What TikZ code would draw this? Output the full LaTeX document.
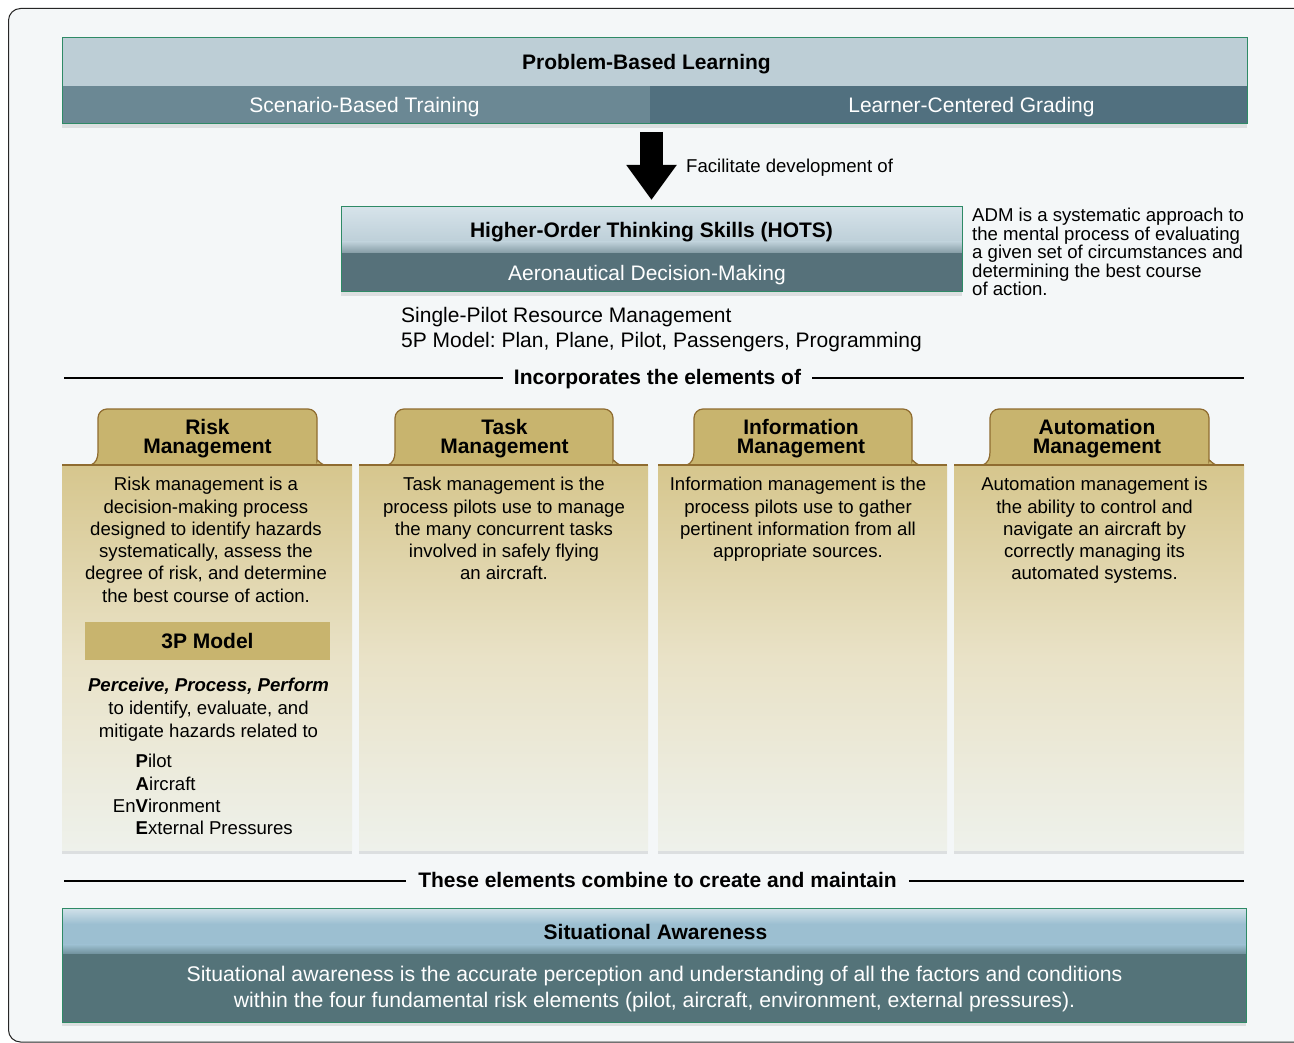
\documentclass[tikz,border=0pt]{standalone}
\usepackage{fontspec}
\setmainfont{Liberation Sans}
\usetikzlibrary{arrows.meta,shadows}
\frenchspacing

\definecolor{pagebg}{HTML}{F4F7F8}
\definecolor{edgegreen}{HTML}{2E8A66}
\definecolor{pbltop}{HTML}{BDCED6}
\definecolor{sbtblue}{HTML}{6B8894}
\definecolor{lcgblue}{HTML}{51707F}
\definecolor{hotstop}{HTML}{D6E3EA}
\definecolor{hotsmid}{HTML}{BDCFD8}
\definecolor{admteal}{HTML}{56717A}
\definecolor{satop}{HTML}{D2E2EA}
\definecolor{samid}{HTML}{9CBFD1}
\definecolor{sateal}{HTML}{547379}
\definecolor{tabgold}{HTML}{C8B46E}
\definecolor{tabbrown}{HTML}{8F6C30}
\definecolor{cardtop}{HTML}{D6C68D}
\definecolor{cardmid}{HTML}{E9E2C7}
\definecolor{cardbot}{HTML}{EEF1EB}

\begin{document}
\begin{tikzpicture}[x=1pt, y=-1pt,
  bigtext/.style={font=\fontsize{21}{25}\selectfont},
  headtext/.style={font=\fontsize{21}{25}\selectfont\bfseries},
  smalltext/.style={font=\fontsize{18.6}{22.3}\selectfont},
  boxedge/.style={draw=edgegreen, line width=1pt, inner sep=0pt, outer sep=0pt},
  softshadow/.style={drop shadow={opacity=.2, shadow xshift=0pt, shadow yshift=-4pt}},
  cardbody/.style={top color=cardtop, bottom color=cardbot, middle color=cardmid, softshadow},
  cardtab/.style={fill=tabgold, draw=tabbrown, line width=1.2pt},
  tabtitle/.style={font=\fontsize{21}{19}\selectfont\bfseries, align=center, inner sep=0pt, anchor=north},
  cardtext/.style={smalltext, align=center, inner sep=0pt, anchor=north},
  divider/.style={line width=2pt},
  bigarrow/.style={line width=23pt, -{Triangle[width=48pt,length=35pt]}, shorten <=8pt, shorten >=7pt}]

  \useasboundingbox (0,0) rectangle (1294,1043);
  \clip (0,0) rectangle (1294,1043);
  \fill[white] (0,0) rectangle (1294,1043);
  \draw[rounded corners=12pt, fill=pagebg, draw=black!85, line width=1pt] (8.5,8.5) rectangle (1320,1042);

  % problem-based learning banner
  \path[fill=pbltop, softshadow] (62,38) rectangle (1247,124);
  \fill[sbtblue] (62,86) rectangle (650,124);
  \fill[lcgblue] (650,86) rectangle (1247,124);
  \node[boxedge, minimum width=1185pt, minimum height=86pt] (pbl) at (654.5,81) {};
  \node[headtext, anchor=base] (pbltitle) at (646.5,69.5) {Problem-Based Learning};
  \node[bigtext, text=white, anchor=base] (sbt) at (364.5,112.5) {Scenario-Based Training};
  \node[bigtext, text=white, anchor=base] (lcg) at (971.5,112.5) {Learner-Centered Grading};

  % higher-order thinking skills
  \path[fill=admteal, softshadow] (341,207) rectangle (962,292);
  \shade[top color=hotstop, bottom color=hotsmid] (341,207) rectangle (962,242);
  \shade[top color=hotsmid, bottom color=admteal!55!hotsmid] (341,242) rectangle (962,253);
  \node[boxedge, minimum width=621pt, minimum height=85pt] (hots) at (651.5,249.5) {};
  \node[headtext, anchor=base] (hotstitle) at (651.5,237.5) {Higher-Order Thinking Skills (HOTS)};
  \node[bigtext, text=white, anchor=base] (adm) at (647,280.5) {Aeronautical Decision-Making};

  \draw[bigarrow] (pbl.south -| hots.north) -- (hots.north);
  \node[smalltext, anchor=base west, inner sep=0pt] (facil) at (686,172.7) {Facilitate development of};

  \node[font=\fontsize{18.6}{18.5}\selectfont, align=left, anchor=north west, inner sep=0pt] (admnote) at (972,208.1)
    {ADM is a systematic approach to\\the mental process of evaluating\\a given set of circumstances and\\determining the best course\\of action.};
  \node[font=\fontsize{21}{25}\selectfont, align=left, anchor=north west, inner sep=0pt] (srm) at (401,307.2)
    {Single-Pilot Resource Management\\5P Model: Plan, Plane, Pilot, Passengers, Programming};

  % incorporates the elements of
  \node[headtext, inner xsep=11pt, inner ysep=0pt, anchor=base] (incorp) at (657.5,384.5) {Incorporates the elements of};
  \coordinate (incL) at (64,378);
  \coordinate (incR) at (1244,378);
  \draw[divider] (incL) -- (incL -| incorp.west);
  \draw[divider] (incorp.east |- incR) -- (incR);

  % the four cards
  \foreach \xa/\xb in {62/352, 359/648, 658/947, 954/1244} {
    \path[cardbody] (\xa,465) rectangle (\xb,850);
    \draw[cardtab] ({\xa+29},465) .. controls ({\xa+34},463) and ({\xa+36},458) .. ({\xa+36},452)
      [rounded corners=9pt] -- ({\xa+36},409) -- ({\xb-35},409) -- ({\xb-35},452)
      [sharp corners] .. controls ({\xb-35},458) and ({\xb-33},463) .. ({\xb-28},465) -- cycle;
    \draw[tabbrown, line width=1.2pt] (\xa,465) -- (\xb,465);
  }

  \node[tabtitle] (riskhd) at (207.5,419.2) {Risk\\Management};
  \node[tabtitle] (taskhd) at (504.5,419.2) {Task\\Management};
  \node[tabtitle] (infohd) at (801,419.2) {Information\\Management};
  \node[tabtitle] (autohd) at (1097,419.2) {Automation\\Management};

  \node[cardtext] (risktxt) at (206,477.1) {Risk management is a\\decision-making process\\designed to identify hazards\\systematically, assess the\\degree of risk, and determine\\the best course of action.};
  \node[cardtext] (tasktxt) at (504,477.1) {Task management is the\\process pilots use to manage\\the many concurrent tasks\\involved in safely flying\\an aircraft.};
  \node[cardtext] (infotxt) at (798,477.1) {Information management is the\\process pilots use to gather\\pertinent information from all\\appropriate sources.};
  \node[cardtext] (autotxt) at (1094.5,477.1) {Automation management is\\the ability to control and\\navigate an aircraft by\\correctly managing its\\automated systems.};

  % 3P model
  \node[headtext, fill=tabgold, minimum width=245pt, minimum height=38pt, inner sep=0pt] (threep) at (207.5,641) {3P Model};
  \node[font=\fontsize{18.6}{23}\selectfont, align=center, anchor=north, inner sep=0pt] (perceive) at (208.5,678.1)
    {\textbf{\textit{Perceive, Process, Perform}}\\to identify, evaluate, and\\mitigate hazards related to};
  \node[smalltext, align=left, anchor=north west, inner sep=0pt] (pave) at (135.5,754.1)
    {\textbf{P}ilot\\\textbf{A}ircraft\\\llap{En}\textbf{V}ironment\\\textbf{E}xternal Pressures};

  % these elements combine
  \node[headtext, inner xsep=12pt, inner ysep=0pt, anchor=base] (combine) at (657.5,887.5) {These elements combine to create and maintain};
  \coordinate (comL) at (64,881);
  \coordinate (comR) at (1244,881);
  \draw[divider] (comL) -- (comL -| combine.west);
  \draw[divider] (combine.east |- comR) -- (comR);

  % situational awareness
  \path[fill=sateal, softshadow] (62,908) rectangle (1246,1022);
  \shade[top color=satop, bottom color=samid] (62,908) rectangle (1246,924);
  \fill[samid] (62,923.5) rectangle (1246,945);
  \shade[top color=samid, bottom color=sateal!55!samid] (62,944.5) rectangle (1246,953);
  \node[boxedge, minimum width=1184pt, minimum height=114pt] (sa) at (654,965) {};
  \node[headtext, anchor=base] (satitle) at (655.5,939.5) {Situational Awareness};
  \node[font=\fontsize{21.2}{26}\selectfont, text=white, align=center, anchor=north, inner sep=0pt] (satxt) at (654.5,966.2)
    {Situational awareness is the accurate perception and understanding of all the factors and conditions\\within the four fundamental risk elements (pilot, aircraft, environment, external pressures).};
\end{tikzpicture}
\end{document}
